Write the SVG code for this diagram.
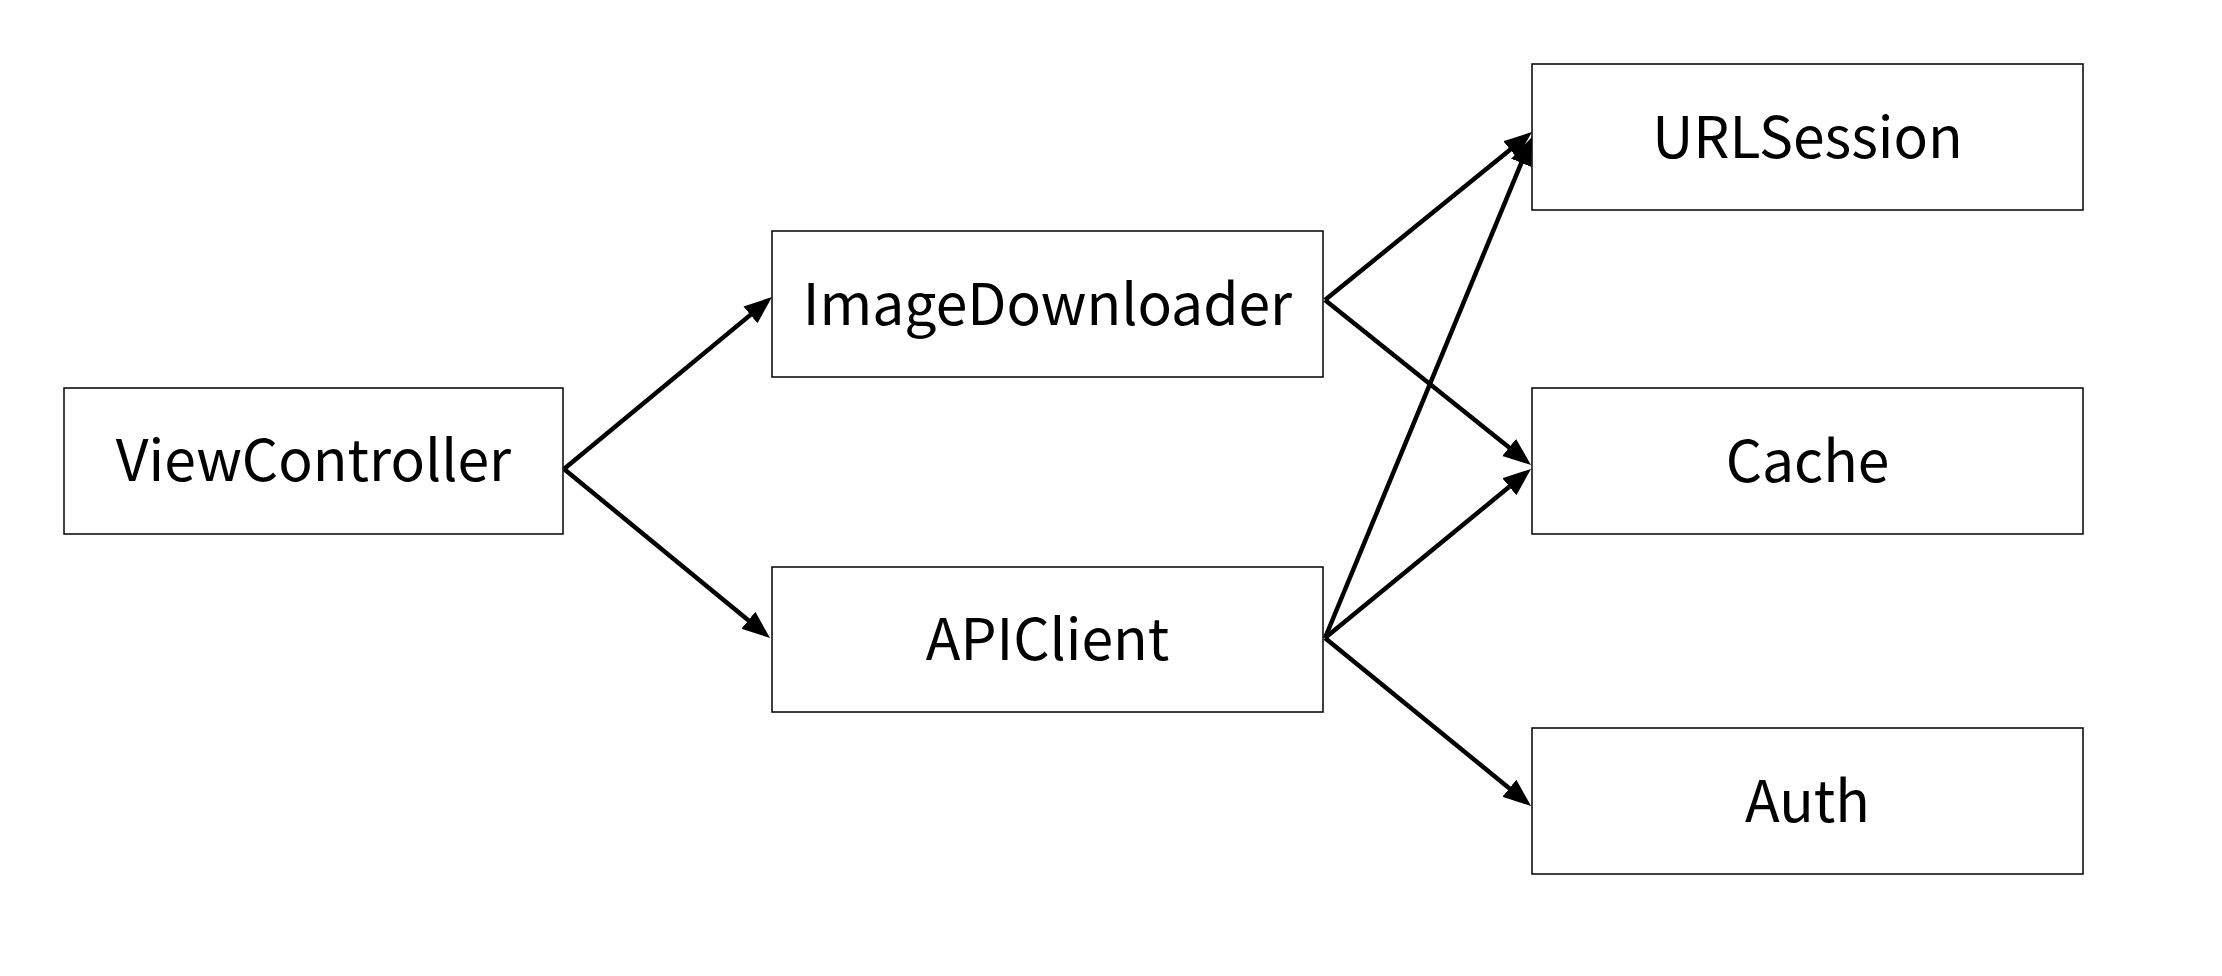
<svg xmlns="http://www.w3.org/2000/svg" width="2222" height="976" viewBox="0 0 2222 976">
  <style>
    .box { fill: #ffffff; stroke: #000000; stroke-width: 1.5; }
    .label { font-family: "Noto Sans CJK JP", "Noto Sans", sans-serif; font-size: 57px; fill: #000000; text-anchor: middle; }
    .edge { fill: none; stroke: #000000; stroke-width: 4.5; marker-end: url(#arrow); }
  </style>
  <defs>
    <marker id="arrow" markerUnits="userSpaceOnUse" markerWidth="30" markerHeight="24" refX="18" refY="11" orient="auto">
      <path d="M0,0 L28,11 L0,22 z" fill="#000000"/>
    </marker>
  </defs>
  <rect width="2222" height="976" fill="#ffffff"/>

  <g id="edges">
    <line class="edge" x1="564" y1="469" x2="764.3" y2="303.4"/>
    <line class="edge" x1="564" y1="469" x2="762.3" y2="631.7"/>
    <line class="edge" x1="1325" y1="300" x2="1524.2" y2="138.3"/>
    <line class="edge" x1="1325" y1="300" x2="1523.2" y2="458.7"/>
    <line class="edge" x1="1325" y1="638" x2="1528.2" y2="146.2"/>
    <line class="edge" x1="1325" y1="638" x2="1523.3" y2="475.3"/>
    <line class="edge" x1="1325" y1="638" x2="1523.3" y2="799.7"/>
  </g>

  <g id="ViewController">
    <rect class="box" x="64" y="388" width="499" height="146"/>
    <text class="label" x="313.5" y="481">ViewController</text>
  </g>
  <g id="ImageDownloader">
    <rect class="box" x="772" y="231" width="551" height="146"/>
    <text class="label" x="1047.5" y="325">ImageDownloader</text>
  </g>
  <g id="APIClient">
    <rect class="box" x="772" y="567" width="551" height="145"/>
    <text class="label" x="1047.5" y="660">APIClient</text>
  </g>
  <g id="URLSession">
    <rect class="box" x="1532" y="64" width="551" height="146"/>
    <text class="label" x="1807.5" y="158">URLSession</text>
  </g>
  <g id="Cache">
    <rect class="box" x="1532" y="388" width="551" height="146"/>
    <text class="label" x="1807.5" y="482">Cache</text>
  </g>
  <g id="Auth">
    <rect class="box" x="1532" y="728" width="551" height="146"/>
    <text class="label" x="1807.5" y="822">Auth</text>
  </g>
</svg>
